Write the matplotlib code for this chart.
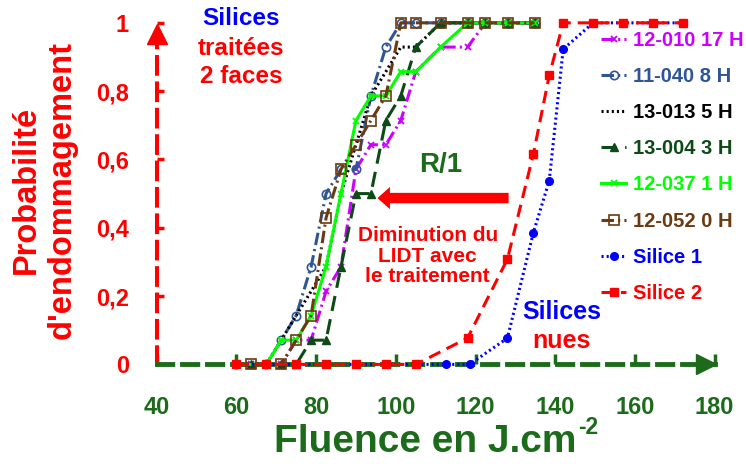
import matplotlib.pyplot as plt

plt.rcParams['font.family'] = ['Liberation Sans', 'DejaVu Sans']
plt.rcParams['font.weight'] = 'bold'
plt.rcParams['lines.scale_dashes'] = False

# fluences (J/cm2) et probabilites d'endommagement
f_12010 = [63.75, 71.25, 75, 78.75, 82.5, 86.25, 90, 93.75, 97.5, 101.25, 105, 111.25, 118, 122.5, 128.2, 134.8]
p_12010 = [0, 0, 0.071, 0.071, 0.214, 0.286, 0.571, 0.643, 0.643, 0.714, 0.857, 0.929, 0.929, 1, 1, 1]

f_11040 = [60, 67.5, 71.25, 75, 78.75, 82.5, 86.25, 90, 93.75, 97.5, 101.25, 105, 111.25, 118, 122.5, 128.2, 134.8]
p_11040 = [0, 0, 0.071, 0.143, 0.286, 0.5, 0.571, 0.571, 0.786, 0.929, 1, 1, 1, 1, 1, 1, 1]

f_13013 = [60, 67.5, 71.25, 75, 78.75, 82.5, 86.25, 90, 93.75, 97.5, 101.25, 105, 111.25, 118, 122.5, 128.2, 134.8]
p_13013 = [0, 0, 0.071, 0.143, 0.214, 0.286, 0.5, 0.643, 0.786, 0.857, 0.929, 0.929, 1, 1, 1, 1, 1]

f_13004 = [63.75, 71.25, 75, 78.75, 82.5, 86.25, 90, 93.75, 97.5, 101.25, 105, 111.25, 118, 122.5, 128.2, 134.8]
p_13004 = [0, 0, 0, 0.071, 0.071, 0.286, 0.5, 0.5, 0.714, 0.786, 0.929, 1, 1, 1, 1, 1]

f_12037 = [60, 67.5, 71.25, 75, 78.75, 82.5, 86.25, 90, 93.75, 97.5, 101.25, 105, 111.25, 118, 122.5, 128.2, 134.8]
p_12037 = [0, 0, 0.071, 0.071, 0.143, 0.286, 0.5, 0.714, 0.786, 0.786, 0.857, 0.857, 0.929, 1, 1, 1, 1]

f_12052 = [63.75, 71.25, 75, 78.75, 82.5, 86.25, 90, 93.75, 97.5, 101.25, 105, 111.25, 118, 122.5, 128.2, 134.8]
p_12052 = [0, 0, 0.071, 0.143, 0.429, 0.571, 0.643, 0.714, 0.786, 1, 1, 1, 1, 1, 1, 1]

f_silice1 = [60, 67.5, 75, 82.5, 90, 97.5, 105, 112.5, 118.5, 128, 134.5, 138.5, 142, 149.5, 157, 164.5, 172]
p_silice1 = [0, 0, 0, 0, 0, 0, 0, 0, 0, 0.077, 0.385, 0.538, 0.923, 1, 1, 1, 1]

f_silice2 = [60, 67.5, 75, 82.5, 90, 97.5, 105, 118, 128, 134.5, 138.5, 142, 149.5, 157, 164.5, 172]
p_silice2 = [0, 0, 0, 0, 0, 0, 0, 0.077, 0.308, 0.615, 0.846, 1, 1, 1, 1, 1]

x_ticks = [40, 60, 80, 100, 120, 140, 160, 180]
y_ticks = [0, 0.2, 0.4, 0.6, 0.8, 1]
y_tick_labels = ['0', '0,2', '0,4', '0,6', '0,8', '1']

VERT = '#1b6b1b'
ROUGE = '#ff0000'

series = [
    ('12-010 17 H', f_12010, p_12010, dict(color='#cc00ff', ls=(0, (9, 3, 1.5, 3)), marker='x', ms=5, mew=1.3)),
    ('11-040 8 H', f_11040, p_11040, dict(color='#2f5597', ls=(0, (9, 3, 1.5, 3)), marker='o', ms=6, mfc='none', mew=1.2)),
    ('13-013 5 H', f_13013, p_13013, dict(color='black', ls=(0, (1.5, 2.2)), marker=None)),
    ('13-004 3 H', f_13004, p_13004, dict(color='#0d4a17', ls=(0, (11, 6)), marker='^', ms=6)),
    ('12-037 1 H', f_12037, p_12037, dict(color='#00ff00', ls='-', marker='x', ms=5, mew=1.3)),
    ('12-052 0 H', f_12052, p_12052, dict(color='#6b3a10', ls=(0, (9, 3, 1.5, 3)), marker='s', ms=7, mfc='none', mew=1.2)),
    ('Silice 1', f_silice1, p_silice1, dict(color='#0000ff', ls=(0, (1.5, 2.2)), marker='o', ms=5.5)),
    ('Silice 2', f_silice2, p_silice2, dict(color=ROUGE, ls=(0, (9, 5)), marker='s', ms=6)),
]

fig = plt.figure(figsize=(7.46, 4.66), dpi=100)
ax = fig.add_axes([0.210, 0.218, 0.748, 0.733])

for i, (nom, f, p, st) in enumerate(series):
    ax.plot(f, p, label=nom, lw=2.2, clip_on=False, zorder=3 + i * 0.1, **st)

ax.set_xlim(40, 180)
ax.set_ylim(0, 1)
ax.set_xticks(x_ticks)
ax.set_yticks(y_ticks)
ax.set_yticklabels(y_tick_labels)

# axes en tirets avec fleches
for cote in ['top', 'right']:
    ax.spines[cote].set_visible(False)
ax.spines['left'].set_color(ROUGE)
ax.spines['left'].set_linewidth(2.9)
ax.spines['left'].set_linestyle((0, (12, 7)))
ax.spines['bottom'].set_color(VERT)
ax.spines['bottom'].set_linewidth(3.5)
ax.spines['bottom'].set_linestyle((0, (11, 7)))
ax.plot(0, 0.968, '^', ms=14, color=ROUGE, transform=ax.transAxes, clip_on=False)
ax.plot(0.984, 0, '>', ms=14, color=VERT, transform=ax.transAxes, clip_on=False)

ax.tick_params(axis='y', direction='in', length=5, width=2.5, colors=ROUGE, labelsize=17, pad=20)
ax.tick_params(axis='x', direction='in', length=7, width=2.5, colors=VERT, labelsize=17, pad=23)

fig.text(44 / 746, 1 - 190 / 466, "Probabilité\nd'endommagement", rotation=90, ha='center', va='center',
         multialignment='center', fontsize=23.5, color=ROUGE)
# titre de l'axe x, exposant en petit a cote
fig.text(576 / 746, 1 - 452 / 466, 'Fluence en J.cm', ha='right', va='baseline', fontsize=28, color=VERT)
fig.text(578 / 746, 1 - 434 / 466, '-2', ha='left', va='baseline', fontsize=16.5, color=VERT)

ax.text(61.1, 1.014, 'Silices', ha='center', va='center', fontsize=17.5, color='#0000ff')
ax.text(61.1, 0.926, 'traitées', ha='center', va='center', fontsize=17.5, color=ROUGE)
ax.text(61.1, 0.844, '2 faces', ha='center', va='center', fontsize=17.5, color=ROUGE)

ax.text(111.3, 0.583, 'R/1', ha='center', va='center', fontsize=20, color=VERT)
ax.annotate('', xy=(94.7, 0.487), xytext=(129, 0.487),
            arrowprops=dict(arrowstyle='simple,head_length=0.9,head_width=1.6,tail_width=0.75',
                            color=ROUGE, lw=0))
ax.text(108, 0.316, 'Diminution du\nLIDT avec\nle traitement', ha='center', va='center',
        fontsize=15, color=ROUGE, linespacing=1.1)

ax.text(141.6, 0.153, 'Silices', ha='center', va='center', fontsize=18, color='#0000ff')
ax.text(141.6, 0.068, 'nues', ha='center', va='center', fontsize=18, color=ROUGE)

ax.legend(loc='upper left', bbox_to_anchor=(601 / 746, 1 - 31 / 466), bbox_transform=fig.transFigure,
          frameon=False, fontsize=14.5, handlelength=1.25, handletextpad=0.35, labelspacing=0.85,
          borderpad=0, borderaxespad=0, labelcolor='linecolor', numpoints=1)

fig.savefig('out.png', dpi=100)
